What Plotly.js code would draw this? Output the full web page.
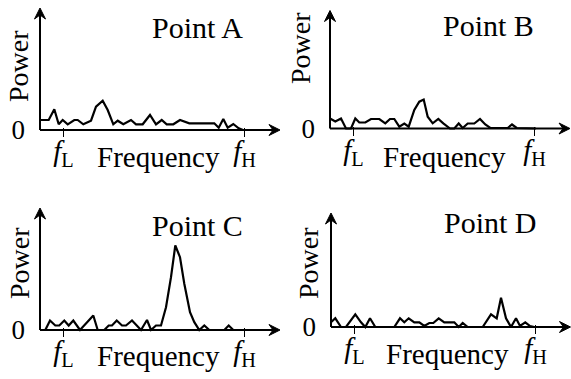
<!DOCTYPE html>
<html>
<head>
<meta charset="utf-8">
<script src="https://cdn.plot.ly/plotly-3.0.1.min.js"></script>
<style>html,body{margin:0;padding:0;background:#fff}#chart{width:571px;height:379px}</style>
</head>
<body>
<div id="chart"></div>
<script>
// ---- Data (frequency in arbitrary units from the power axis; power in arbitrary units) ----
const panelNames = ["Point A", "Point B", "Point C", "Point D"];
const tickLabels = ["<i>f</i><sub>L</sub>", "<i>f</i><sub>H</sub>"];
const tickFreqs = [23.5, 204.5];

const freqA = [0, 8.7, 14.3, 18.7, 22.7, 27.7, 34.3, 37.7, 43.3, 51, 56, 62.7, 67.7, 73.3, 77.7, 83.3, 91, 96, 102.7, 110, 116, 121.7, 126.7, 133.3, 140, 149.3, 156, 174.3, 178.7, 183.3, 187.7, 193.3, 198.7, 203];
const powerA = [10, 10, 20.7, 5.7, 10, 5.7, 10, 10, 5.7, 9.3, 23.3, 29.3, 20, 5.7, 9.3, 5.7, 10, 5.7, 5.7, 15, 5.7, 10, 5.7, 5.7, 10, 6.7, 6.7, 6.7, 2.3, 11, 2.3, 6, 1.7, 0];

const freqB = [0, 5.3, 11, 16, 21, 25.3, 29.3, 35.3, 41, 49.3, 55.3, 60, 64.3, 69.3, 74.3, 78.7, 84.3, 89.3, 93.7, 97.7, 102.7, 108.3, 113.3, 120, 124.3, 128.7, 132.7, 137.7, 144.3, 150, 155.3, 160.3, 177.7, 182, 186.7, 206];
const powerB = [10, 7, 10, 0, 0, 10, 6, 6, 9.5, 9.5, 5.2, 9.5, 9.5, 1.8, 5, 1.8, 18.5, 26.8, 29, 11.8, 5.2, 9.5, 5.2, 0, 0, 5, 0.5, 5, 5, 9.5, 4, 0.5, 0.5, 4, 0.5, 0];

const freqC = [5.3, 10, 15.3, 19.3, 24.3, 28.7, 33.3, 40, 53.3, 57.7, 64.3, 68.7, 72, 76.7, 82, 86, 92, 101, 107, 111, 116, 121, 126, 131, 135.3, 140, 144.3, 150, 154.3, 159.3, 164.3, 169.3, 184.3, 188.7, 193.3, 203.3];
const powerC = [0, 9.5, 4.5, 4.5, 9.5, 4.5, 9.5, 0, 14.5, 0, 0, 4.5, 4.5, 9.5, 4.5, 4.5, 9.5, 0, 10, 0, 4.5, 4.5, 22.8, 52.8, 84.5, 72.8, 46.2, 17.8, 7.8, 0, 4.5, 0, 0, 4.5, 0, 0];

const freqD = [0, 4.3, 10, 15, 24.3, 30, 34.3, 39, 44.3, 63.3, 69, 73.3, 77.7, 83.3, 88.3, 93.3, 98.3, 102.3, 107.7, 113.3, 123.3, 127.7, 131.7, 136.7, 151.7, 160, 165.7, 170, 175, 180, 185, 189, 194.3, 199, 203.3];
const powerD = [4.7, 8.7, 0, 0, 12.7, 4.7, 0, 8.7, 0, 0, 8.7, 4.7, 8.7, 4.7, 4.7, 1, 4, 4, 8.7, 4.7, 4.7, 0, 4, 0, 0, 12.7, 8.7, 29.3, 8.7, 0, 8.7, 1, 4.7, 1, 0];

const freqs = [freqA, freqB, freqC, freqD];
const powers = [powerA, powerB, powerC, powerD];

// ---- Layout geometry (pixels; 1 axis unit = 1 px) ----
const W = 571, H = 379;
const PAD = 7;
const geo = [
  {ax: 40,  base: 130,   h: 122, title: [197, 27],  power: [18, 66],  freq: [158, 157]},
  {ax: 330, base: 128.5, h: 118, title: [488, 25],  power: [300, 48], freq: [444, 157]},
  {ax: 40,  base: 330,   h: 122, title: [197, 225], power: [19, 263], freq: [158, 356]},
  {ax: 331, base: 327,   h: 114, title: [490, 222], power: [308, 263], freq: [447, 354]}
];
const px = x => x / W;
const py = y => 1 - y / H;
const FONT = "Liberation Serif, Times New Roman, serif";

const traces = [];
const layout = {
  width: W, height: H, autosize: false,
  margin: {l: 0, r: 0, t: 0, b: 0},
  paper_bgcolor: "#fff", plot_bgcolor: "rgba(0,0,0,0)",
  showlegend: false,
  font: {family: FONT, color: "#000"},
  annotations: [], shapes: []
};

geo.forEach((g, i) => {
  const n = i + 1;
  const sfx = n === 1 ? "" : String(n);
  const xa = "x" + sfx, ya = "y" + sfx;
  const xend = Math.min(241, W - g.ax);
  const xtip = Math.min(240, xend - 0.5);
  const ytip = g.h;
  traces.push({
    x: freqs[i], y: powers[i], xaxis: xa, yaxis: ya,
    type: "scatter", mode: "lines",
    line: {color: "#000", width: 2.2},
    hoverinfo: "skip"
  });
  layout["xaxis" + sfx] = {
    domain: [px(g.ax - PAD), px(g.ax + xend)],
    range: [-PAD, xend], anchor: ya,
    showgrid: false, zeroline: false, showline: false,
    tickmode: "array", tickvals: tickFreqs, ticktext: tickLabels,
    ticks: "inside", ticklen: PAD + 2, tickwidth: 1.5, tickcolor: "#000",
    ticklabelstandoff: -6,
    tickfont: {family: FONT, size: 29, color: "#000"},
    fixedrange: true
  };
  layout["yaxis" + sfx] = {
    domain: [py(g.base + PAD), py(g.base - g.h - 1)],
    range: [-PAD, g.h + 1], anchor: xa,
    showgrid: false, zeroline: false, showline: false,
    tickmode: "array", tickvals: [0], ticktext: ["0"],
    ticks: "", ticklabelstandoff: 7,
    tickfont: {family: FONT, size: 27, color: "#000"},
    fixedrange: true
  };
  // axis lines with arrowheads
  const ln = {color: "#000", width: 2};
  layout.shapes.push({type: "line", xref: xa, yref: ya, x0: 0, y0: 0, x1: xtip - 6, y1: 0, line: ln});
  layout.shapes.push({type: "line", xref: xa, yref: ya, x0: 0, y0: 0, x1: 0, y1: ytip - 6, line: ln});
  layout.shapes.push({
    type: "path", xref: xa, yref: ya, fillcolor: "#000", line: {color: "#000", width: 1},
    path: `M${xtip},0 L${xtip - 11},5.5 L${xtip - 7},0 L${xtip - 11},-5.5 Z`
  });
  layout.shapes.push({
    type: "path", xref: xa, yref: ya, fillcolor: "#000", line: {color: "#000", width: 1},
    path: `M0,${ytip} L-5.5,${ytip - 11} L0,${ytip - 7} L5.5,${ytip - 11} Z`
  });
  // texts
  layout.annotations.push({
    xref: "paper", yref: "paper", x: px(g.title[0]), y: py(g.title[1]),
    xanchor: "center", yanchor: "middle", showarrow: false,
    text: panelNames[i], font: {family: FONT, size: 30, color: "#000"}
  });
  layout.annotations.push({
    xref: "paper", yref: "paper", x: px(g.power[0]), y: py(g.power[1]),
    xanchor: "center", yanchor: "middle", showarrow: false, textangle: -90,
    text: "Power", font: {family: FONT, size: 28, color: "#000"}
  });
  layout.annotations.push({
    xref: "paper", yref: "paper", x: px(g.freq[0]), y: py(g.freq[1]),
    xanchor: "center", yanchor: "middle", showarrow: false,
    text: "Frequency", font: {family: FONT, size: 29, color: "#000"}
  });
});

Plotly.newPlot("chart", traces, layout, {staticPlot: true, displayModeBar: false});
</script>
</body>
</html>
